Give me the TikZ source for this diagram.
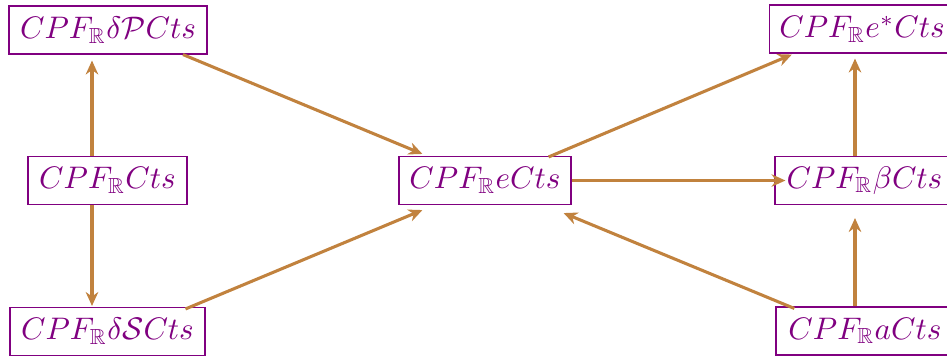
\documentclass[tikz,border=0pt]{standalone}
\usepackage{graphicx}
\usepackage{amssymb}
\usetikzlibrary{arrows.meta,calc}
\definecolor{boxpurple}{RGB}{128,0,128}
\definecolor{arrbrown}{RGB}{193,130,62}
\newcommand{\boxlabel}[1]{\scalebox{1.12}{$#1$}}
\tikzset{
  cbox/.style={draw=boxpurple, text=boxpurple, line width=0.45pt, inner sep=0pt, minimum height=17.2pt, anchor=center},
  arr/.style={draw=arrbrown, line width=1.1pt, -{Stealth[length=5pt,width=4.5pt]}}
}
\begin{document}
\begin{tikzpicture}[x=0.3594pt,y=-0.3594pt]
\clip (0,0) rectangle (947,358);
\useasboundingbox (0,0) rectangle (947,358);
\node[cbox, minimum width=71.2pt] (tl) at (108,30) {\boxlabel{CPF_{\mathbb{R}}\delta\mathcal{P}Cts}};
\node[cbox, minimum width=66.5pt] (tr) at (862,29) {\boxlabel{CPF_{\mathbb{R}}e^{*}Cts}};
\node[cbox, minimum width=57.1pt] (lm) at (107.5,180.5) {\boxlabel{CPF_{\mathbb{R}}Cts}};
\node[cbox, minimum width=61.8pt] (c) at (485,180.5) {\boxlabel{CPF_{\mathbb{R}}eCts}};
\node[cbox, minimum width=64.3pt] (rm) at (864.5,180.5) {\boxlabel{CPF_{\mathbb{R}}\beta Cts}};
\node[cbox, minimum width=70.1pt] (bl) at (107.5,331.5) {\boxlabel{CPF_{\mathbb{R}}\delta\mathcal{S}Cts}};
\node[cbox, minimum width=64pt] (br) at (865,331) {\boxlabel{CPF_{\mathbb{R}}aCts}};
% left column
\draw[arr] (lm.north -| 92,0) -- ($(tl.south -| 92,0)+(0,6)$);
\draw[arr] (lm.south -| 92,0) -- ($(bl.north -| 92,0)+(0,-1)$);
% diagonals into centre
\draw[arr] ($(tl.south)+(75,0)$) -- ($(c.north west)+(24,-2)$);
\draw[arr] ($(bl.north)+(78,2)$) -- ($(c.south west)+(24,5)$);
\draw[arr] ($(br.north west)+(19,2)$) -- ($(c.south east)+(-8,8)$);
% centre outward
\draw[arr] ($(c.north east)+(-23,1)$) -- ($(tr.south west)+(23,1)$);
\draw[arr] (c.east) -- ($(rm.west)+(11,0)$);
% right column
\draw[arr] (rm.north -| 855,0) -- ($(tr.south -| 855,0)+(0,5)$);
\draw[arr] (br.north -| 855,0) -- ($(rm.south -| 855,0)+(0,13)$);
\end{tikzpicture}
\end{document}
